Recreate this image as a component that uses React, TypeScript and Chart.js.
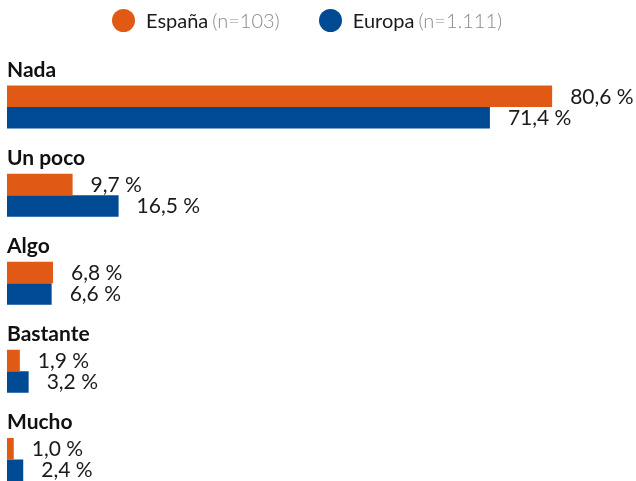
import React, { useEffect, useRef } from "react";
import { Chart, registerables } from "chart.js";

Chart.register(...registerables);

const categories = ["Nada", "Un poco", "Algo", "Bastante", "Mucho"];
const espana = [80.6, 9.7, 6.8, 1.9, 1.0];
const europa = [71.4, 16.5, 6.6, 3.2, 2.4];
const seriesNames = ["España", "Europa"];
const seriesNotes = ["(n=103)", "(n=1.111)"];
const colors = ["#E05A16", "#004A93"];
const xMax = 93;

const fmt = (v: number) => v.toFixed(1).replace(".", ",") + " %";

const valueLabels = {
  id: "valueLabels",
  afterDatasetsDraw(chart: any) {
    const ctx = chart.ctx;
    ctx.save();
    ctx.font = "21px Lato";
    ctx.fillStyle = "#1a1a1a";
    ctx.textAlign = "left";
    ctx.textBaseline = "middle";
    chart.data.datasets.forEach((ds: any, di: number) => {
      const meta = chart.getDatasetMeta(di);
      meta.data.forEach((el: any, i: number) => {
        ctx.fillText(fmt(ds.data[i]), el.x + 18, el.y + 0.5);
      });
    });
    ctx.restore();
  },
};

export default function App() {
  const ref = useRef<HTMLCanvasElement>(null);
  useEffect(() => {
    if (!ref.current) return;
    const chart = new Chart(ref.current, {
      type: "bar",
      data: {
        labels: categories,
        datasets: [
          { label: seriesNames[0], data: espana, backgroundColor: colors[0] },
          { label: seriesNames[1], data: europa, backgroundColor: colors[1] },
        ],
      },
      options: {
        indexAxis: "y",
        animation: false,
        responsive: true,
        maintainAspectRatio: false,
        layout: { padding: { left: 7, right: 0, top: 63, bottom: 0 } },
        datasets: { bar: { categoryPercentage: 43 / 88, barPercentage: 1 } },
        plugins: { legend: { display: false }, tooltip: { enabled: false } },
        scales: {
          x: { display: false, min: 0, max: xMax },
          y: {
            offset: true,
            grid: { display: false, drawTicks: false, tickLength: 0 },
            border: { display: false },
            ticks: {
              mirror: true,
              padding: 0,
              labelOffset: -37,
              color: "#111",
              font: { family: "Lato", size: 21, weight: "bold", lineHeight: 1 },
            },
          },
        },
      },
      plugins: [valueLabels],
    });
    return () => chart.destroy();
  }, []);

  return (
    <div style={{ position: "fixed", left: 0, top: 0, width: 636, height: 514, background: "#fff" }}>
      <div
        style={{
          position: "absolute",
          left: 112,
          top: 9,
          display: "flex",
          alignItems: "center",
          fontFamily: "Lato",
          fontSize: 20,
          lineHeight: "23px",
          whiteSpace: "nowrap",
        }}
      >
        {seriesNames.map((n, i) => (
          <div key={n} style={{ display: "flex", alignItems: "center", marginRight: i === 0 ? 39 : 0 }}>
            <span
              style={{
                display: "inline-block",
                width: 23,
                height: 23,
                borderRadius: "50%",
                background: colors[i],
                marginRight: 11,
              }}
            />
            <span style={{ color: "#1a1a1a" }}>{n}</span>
            <span style={{ color: "#8a8a8a", fontWeight: 300, marginLeft: 4 }}>{seriesNotes[i]}</span>
          </div>
        ))}
      </div>
      <canvas ref={ref} />
    </div>
  );
}
